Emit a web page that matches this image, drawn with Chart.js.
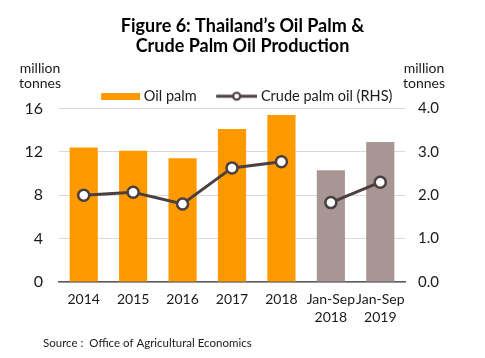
<!DOCTYPE html>
<html>
<head>
<meta charset="utf-8">
<script src="https://cdn.jsdelivr.net/npm/chart.js@4.4.1/dist/chart.umd.min.js"></script>
<style>
  html, body { margin: 0; padding: 0; background: #fff; }
  #wrap { width: 485px; height: 358px; position: relative; }
</style>
</head>
<body>
<div id="wrap"><canvas id="c" width="485" height="358"></canvas></div>
<script>
const categories = ['2014', '2015', '2016', '2017', '2018', ['Jan-Sep', '2018'], ['Jan-Sep', '2019']];
const oilPalm = [12.4, 12.1, 11.4, 14.1, 15.4, 10.3, 12.9];
const crudePalmOil = [2.00, 2.07, 1.80, 2.63, 2.77, 1.83, 2.30];
const leftTicks = [0, 4, 8, 12, 16];
const rightTicks = [0, 1, 2, 3, 4];
const titleLines = ['Figure 6: Thailand\u2019s Oil Palm &', 'Crude Palm Oil Production'];
const seriesNames = ['Oil palm', 'Crude palm oil (RHS)'];
const unitLabel = ['million', 'tonnes'];
const sourceText = 'Source :  Office of Agricultural Economics';

const FONT = 'Lato, "Open Sans", sans-serif';
const ORANGE = '#FF9900';
const MAUVE = '#A89694';
const LINE = '#4B3F3F';
const TEXT = '#1a1a1a';

// index where partial-year periods start
const partialStart = categories.findIndex(c => Array.isArray(c));

// legend icons (61px wide canvases, drawn centred in a 54px legend box)
function makeBarIcon() {
  const cv = document.createElement('canvas');
  cv.width = 61; cv.height = 7;
  const g = cv.getContext('2d');
  g.fillStyle = ORANGE;
  g.fillRect(22, 0, 39, 7);
  return cv;
}
function makeLineIcon() {
  const cv = document.createElement('canvas');
  cv.width = 61; cv.height = 12;
  const g = cv.getContext('2d');
  g.strokeStyle = LINE; g.lineWidth = 3;
  g.beginPath(); g.moveTo(20, 6); g.lineTo(61, 6); g.stroke();
  g.beginPath(); g.arc(40.5, 6, 3.5, 0, Math.PI * 2);
  g.fillStyle = '#fff'; g.fill();
  g.lineWidth = 2.2; g.stroke();
  return cv;
}
const icons = [makeBarIcon(), makeLineIcon()];

// nudge the legend block so it sits where the original places it
const legendShift = {
  id: 'legendShift',
  afterLayout(chart) {
    const lg = chart.legend;
    if (lg) { lg.left -= 5; lg.right -= 5; lg.top += 5; lg.bottom += 5; }
  }
};

const extraText = {
  id: 'extraText',
  afterDraw(chart) {
    const ctx = chart.ctx;
    ctx.save();
    ctx.fillStyle = TEXT;
    ctx.font = '14px ' + FONT;
    ctx.textAlign = 'center';
    ctx.textBaseline = 'middle';
    ctx.fillText(unitLabel[0], 40, 68);
    ctx.fillText(unitLabel[1], 40, 83);
    ctx.fillText(unitLabel[0], 424, 68);
    ctx.fillText(unitLabel[1], 424, 83);
    ctx.font = '11.5px ' + FONT;
    ctx.textAlign = 'left';
    ctx.fillText(sourceText, 43, 343);
    ctx.restore();
  }
};

new Chart(document.getElementById('c'), {
  data: {
    labels: categories,
    datasets: [
      {
        type: 'bar',
        label: seriesNames[0],
        data: oilPalm,
        yAxisID: 'y',
        order: 1,
        backgroundColor: ctx => ctx.dataIndex >= partialStart ? MAUVE : ORANGE,
        barPercentage: 0.57,
        categoryPercentage: 1.0
      },
      {
        type: 'line',
        label: seriesNames[1],
        data: crudePalmOil,
        yAxisID: 'y1',
        order: 0,
        borderColor: LINE,
        borderWidth: 3,
        pointRadius: 5.5,
        pointBorderWidth: 2.5,
        pointBackgroundColor: '#fff',
        pointBorderColor: LINE,
        tension: 0,
        segment: {
          borderColor: ctx => ctx.p0DataIndex === partialStart - 1 ? 'rgba(0,0,0,0)' : undefined
        }
      }
    ]
  },
  options: {
    responsive: false,
    animation: false,
    layout: { padding: { left: 0, right: 0, top: 0, bottom: 26 } },
    plugins: {
      title: {
        display: true,
        text: titleLines,
        color: '#000',
        font: { family: FONT, size: 18, weight: 'bold', lineHeight: 1.11 },
        padding: { top: 16, bottom: 25 }
      },
      legend: {
        display: true,
        position: 'top',
        labels: {
          usePointStyle: true,
          pointStyleWidth: 54,
          boxHeight: 7,
          padding: 3,
          color: TEXT,
          font: { family: FONT, size: 14.5 },
          sort: (a, b) => a.datasetIndex - b.datasetIndex,
          generateLabels(chart) {
            const items = Chart.defaults.plugins.legend.labels.generateLabels(chart);
            items.forEach(it => { it.pointStyle = icons[it.datasetIndex]; });
            return items;
          }
        }
      },
      tooltip: { enabled: false }
    },
    scales: {
      x: {
        grid: { display: false, drawTicks: false },
        border: { display: true, color: '#595959', width: 1.5 },
        ticks: { color: TEXT, font: { family: FONT, size: 14, lineHeight: 1.25 }, padding: 9, maxRotation: 0, autoSkip: false },
        afterFit(scale) { scale.height = 50; }
      },
      y: {
        position: 'left',
        min: 0, max: 16,
        afterBuildTicks(scale) { scale.ticks = leftTicks.map(v => ({ value: v })); },
        grid: { color: '#D9D9D9', lineWidth: 1, drawTicks: false },
        border: { display: false },
        ticks: { color: TEXT, font: { family: FONT, size: 16 }, padding: 16 },
        afterFit(scale) { scale.width = 59; }
      },
      y1: {
        position: 'right',
        min: 0, max: 4,
        afterBuildTicks(scale) { scale.ticks = rightTicks.map(v => ({ value: v })); },
        grid: { display: false, drawTicks: false },
        border: { display: false },
        ticks: { color: TEXT, font: { family: FONT, size: 15 }, padding: 13, callback: v => Number(v).toFixed(1) },
        afterFit(scale) { scale.width = 80; }
      }
    }
  },
  plugins: [legendShift, extraText]
});
</script>
</body>
</html>
